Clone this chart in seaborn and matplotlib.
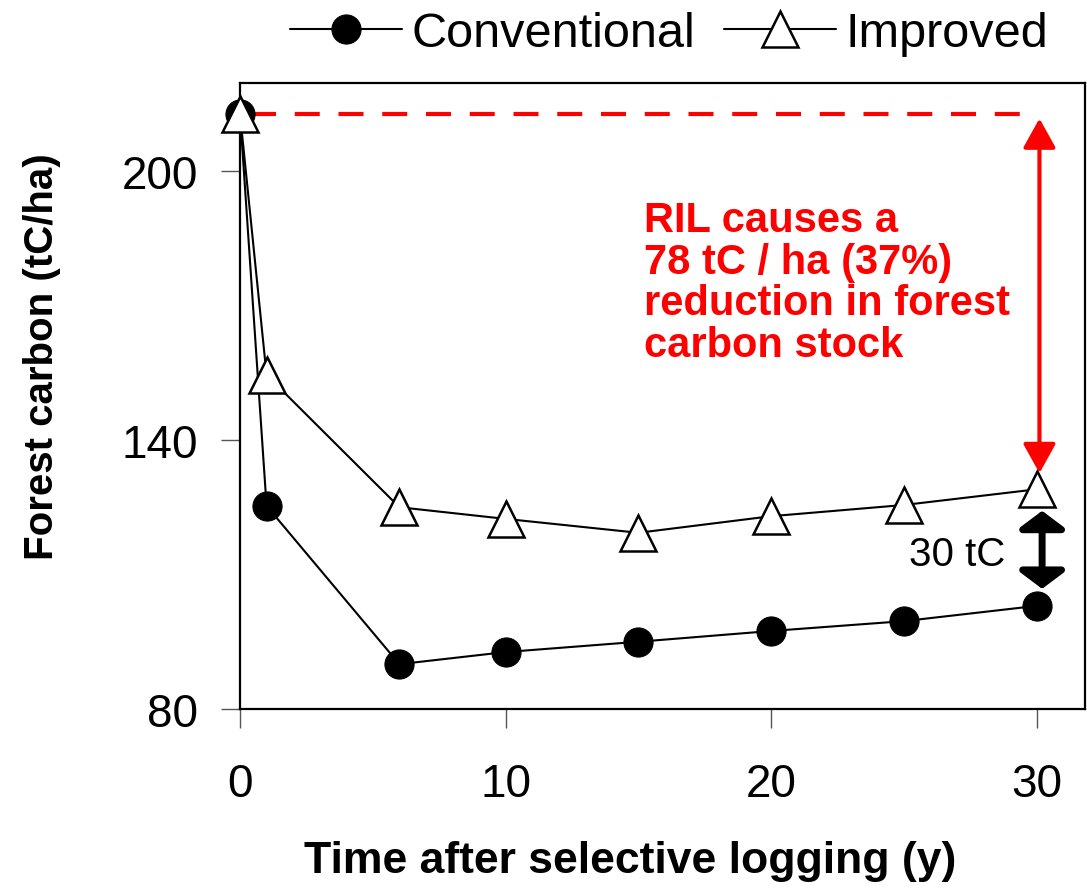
import pandas as pd
import matplotlib.pyplot as plt
import seaborn as sns

sns.set_style("ticks")
plt.rcParams['font.family'] = ['Liberation Sans', 'DejaVu Sans']
plt.rcParams['text.color'] = 'black'
plt.rcParams['axes.labelcolor'] = 'black'
plt.rcParams['xtick.labelcolor'] = 'black'
plt.rcParams['ytick.labelcolor'] = 'black'

# 数据
years = [0, 1, 6, 10, 15, 20, 25, 30]
conventional = [212.7, 125.3, 90.0, 92.7, 95.0, 97.4, 99.6, 103.0]
improved = [212.7, 154.5, 125.0, 122.4, 119.3, 123.0, 125.5, 129.0]
y_ticks = [80, 140, 200]
x_ticks = [0, 10, 20, 30]
note_text = 'RIL causes a\n78 tC / ha (37%)\nreduction in forest\ncarbon stock'
gap_text = '30 tC'

df = pd.DataFrame({'Year': years, 'Conventional': conventional, 'Improved': improved})

fig = plt.figure(figsize=(10.87, 8.95), dpi=100)
ax = fig.add_axes([0.2208, 0.2067, 0.777, 0.6994])

sns.lineplot(data=df, x='Year', y='Conventional', ax=ax, color='black', lw=1.5,
             marker='o', markersize=21, markerfacecolor='black', markeredgecolor='black',
             clip_on=False, label='Conventional', zorder=3)
sns.lineplot(data=df, x='Year', y='Improved', ax=ax, color='black', lw=1.5,
             marker='^', markersize=26, markerfacecolor='white', markeredgecolor='black',
             markeredgewidth=1.8, clip_on=False, label='Improved', zorder=3)

ax.set_xlim(0, 31.8)
ax.set_ylim(80, 219.6)
ax.set_xticks(x_ticks)
ax.set_yticks(y_ticks)
ax.tick_params(axis='both', labelsize=33, length=14, width=1, color='#555555')
ax.tick_params(axis='y', pad=16)
ax.tick_params(axis='x', pad=24)
for s in ax.spines.values():
    s.set_linewidth(1.6)
    s.set_color('black')

ax.set_xlabel('Time after selective logging (y)', fontsize=32, fontweight='bold')
ax.xaxis.set_label_coords(0.462, -0.21)
ax.set_ylabel('Forest carbon (tC/ha)', fontsize=29, fontweight='bold')
ax.yaxis.set_label_coords(-0.212, 0.565)

# 红色虚线 + 双向箭头
top = conventional[0]
ax.plot([0.4, years[-1]], [top, top], color='red', lw=3, dashes=(6, 4.5), zorder=2)
ax.annotate('', xy=(30.1, improved[-1] + 3.6), xytext=(30.1, top - 1.0),
            arrowprops=dict(arrowstyle='<|-|>,head_length=1.8,head_width=1.0',
                            color='red', lw=3, shrinkA=0, shrinkB=0))
ax.text(15.2, 193.5, note_text, color='red', fontsize=30, fontweight='bold',
        ha='left', va='top', linespacing=1.05)

# 黑色双向箭头
ax.annotate('', xy=(30.2, conventional[-1] + 3.8), xytext=(30.2, improved[-1] - 4.8),
            arrowprops=dict(arrowstyle='<|-|>,head_length=1.05,head_width=1.4',
                            color='black', lw=5, shrinkA=0, shrinkB=0))
ax.text(28.8, 114.6, gap_text, fontsize=29, ha='right', va='center')

handles, labels = ax.get_legend_handles_labels()
ax.legend_.remove()
fig.legend(handles, labels, loc='upper right', bbox_to_anchor=(1.005, 1.035), ncol=2,
           frameon=False, fontsize=35, handlelength=2.3, handletextpad=0.2,
           columnspacing=0.6, markerscale=1.0)

fig.savefig('out.png', dpi=100)
